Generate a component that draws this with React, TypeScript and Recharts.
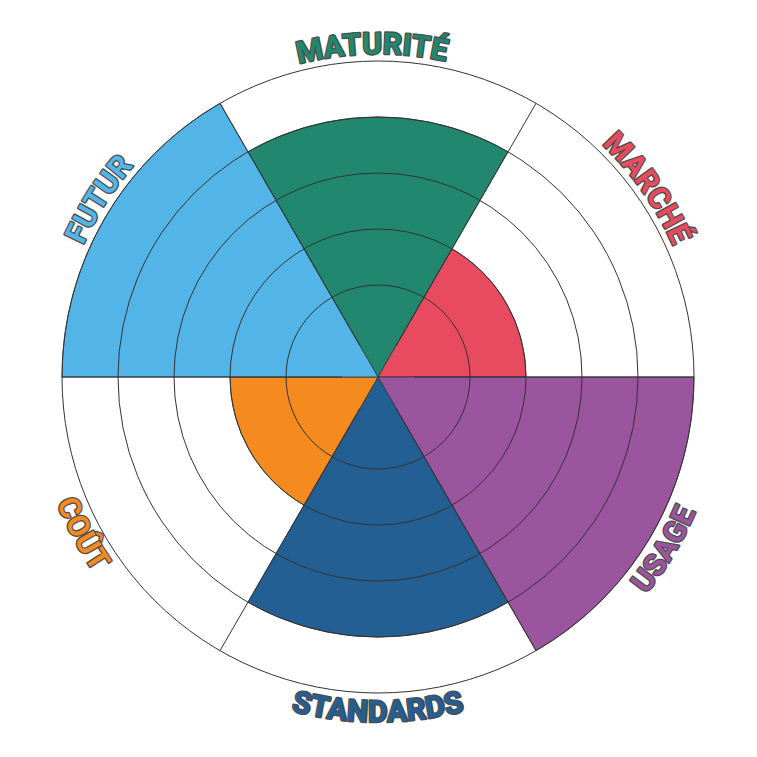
import React from 'react';
import { RadialBarChart, RadialBar, PolarAngleAxis, PolarRadiusAxis, PolarGrid, Cell } from 'recharts';

const CATEGORIES = ['MATURITÉ', 'MARCHÉ', 'USAGE', 'STANDARDS', 'COÛT', 'FUTUR'];
const SCORES = [4, 2, 5, 4, 2, 5];
const COLORS = ['#21876f', '#e84a5f', '#9b549e', '#235f92', '#f58b1f', '#53b5e7'];
const LEVELS = [1, 2, 3, 4, 5];
const MIN_LEVEL = 0;
const CENTER_LEVEL = -9 / 14;
const MAX_LEVEL = 5;

const data = CATEGORIES.map((name, i) => ({ name, score: SCORES[i], color: COLORS[i] }));

const CX = 370;
const CY = 369;
const OUTER = 316;
const INNER = 36;
const HALF_BAND = 180 / CATEGORIES.length;
// small per-label angular nudges (degrees, counter-clockwise positive) to match label placement
const LABEL_NUDGE = [1, 5, -1, 0, -2, -2.5];

function CurvedLabel(props: any) {
  const { payload, index } = props;
  const cx = props.cx ?? CX;
  const cy = props.cy ?? CY;
  const catIndex = CATEGORIES.indexOf(payload.value);
  const angle = payload.coordinate + HALF_BAND + (LABEL_NUDGE[catIndex] || 0);
  const rad = (a: number) => (a * Math.PI) / 180;
  let norm = ((angle % 360) + 360) % 360;
  if (norm > 180) norm -= 360;
  const top = norm > 0;
  const span = 80;
  const r = top ? OUTER + 7 : OUTER + 29;
  const a0 = top ? norm + span : norm - span;
  const a1 = top ? norm - span : norm + span;
  const p0 = [cx + r * Math.cos(rad(a0)), cy - r * Math.sin(rad(a0))];
  const p1 = [cx + r * Math.cos(rad(a1)), cy - r * Math.sin(rad(a1))];
  const d = `M ${p0[0]} ${p0[1]} A ${r} ${r} 0 0 ${top ? 1 : 0} ${p1[0]} ${p1[1]}`;
  const id = `label-arc-${index}`;
  const color = COLORS[catIndex] || '#333';
  return (
    <g>
      <path id={id} d={d} fill="none" stroke="none" />
      <text
        fontFamily="Roboto, sans-serif"
        fontWeight={700}
        fontSize={30}
        letterSpacing={0.3}
        fill={color}
        stroke="#4d4d4d"
        strokeWidth={2.6}
        strokeLinejoin="round"
        paintOrder="stroke"
      >
        <textPath href={`#${id}`} startOffset="50%" textAnchor="middle">
          {payload.value}
        </textPath>
      </text>
    </g>
  );
}

export default function App() {
  return (
    <RadialBarChart
      width={749}
      height={749}
      cx={CX}
      cy={CY}
      innerRadius={INNER}
      outerRadius={OUTER}
      startAngle={60}
      endAngle={-300}
      layout="centric"
      data={data}
      barCategoryGap={0}
      margin={{ top: 0, right: 0, bottom: 0, left: 0 }}
    >
      <PolarAngleAxis type="category" dataKey="name" tick={<CurvedLabel />} axisLine={false} tickLine={false} />
      <PolarRadiusAxis
        type="number"
        domain={[MIN_LEVEL, MAX_LEVEL]}
        tickCount={6}
        ticks={LEVELS as any}
        tick={false}
        axisLine={false}
        allowDataOverflow
      />
      <RadialBar
        dataKey={(d: any) => [CENTER_LEVEL, d.score]}
        isAnimationActive={false}
        stroke="#333"
        strokeWidth={0.8}
      >
        {data.map((d, i) => (
          <Cell key={i} fill={d.color} />
        ))}
      </RadialBar>
      <PolarGrid gridType="circle" stroke="#333" strokeOpacity={1} radialLines={true} zIndex={2000} />
    </RadialBarChart>
  );
}
